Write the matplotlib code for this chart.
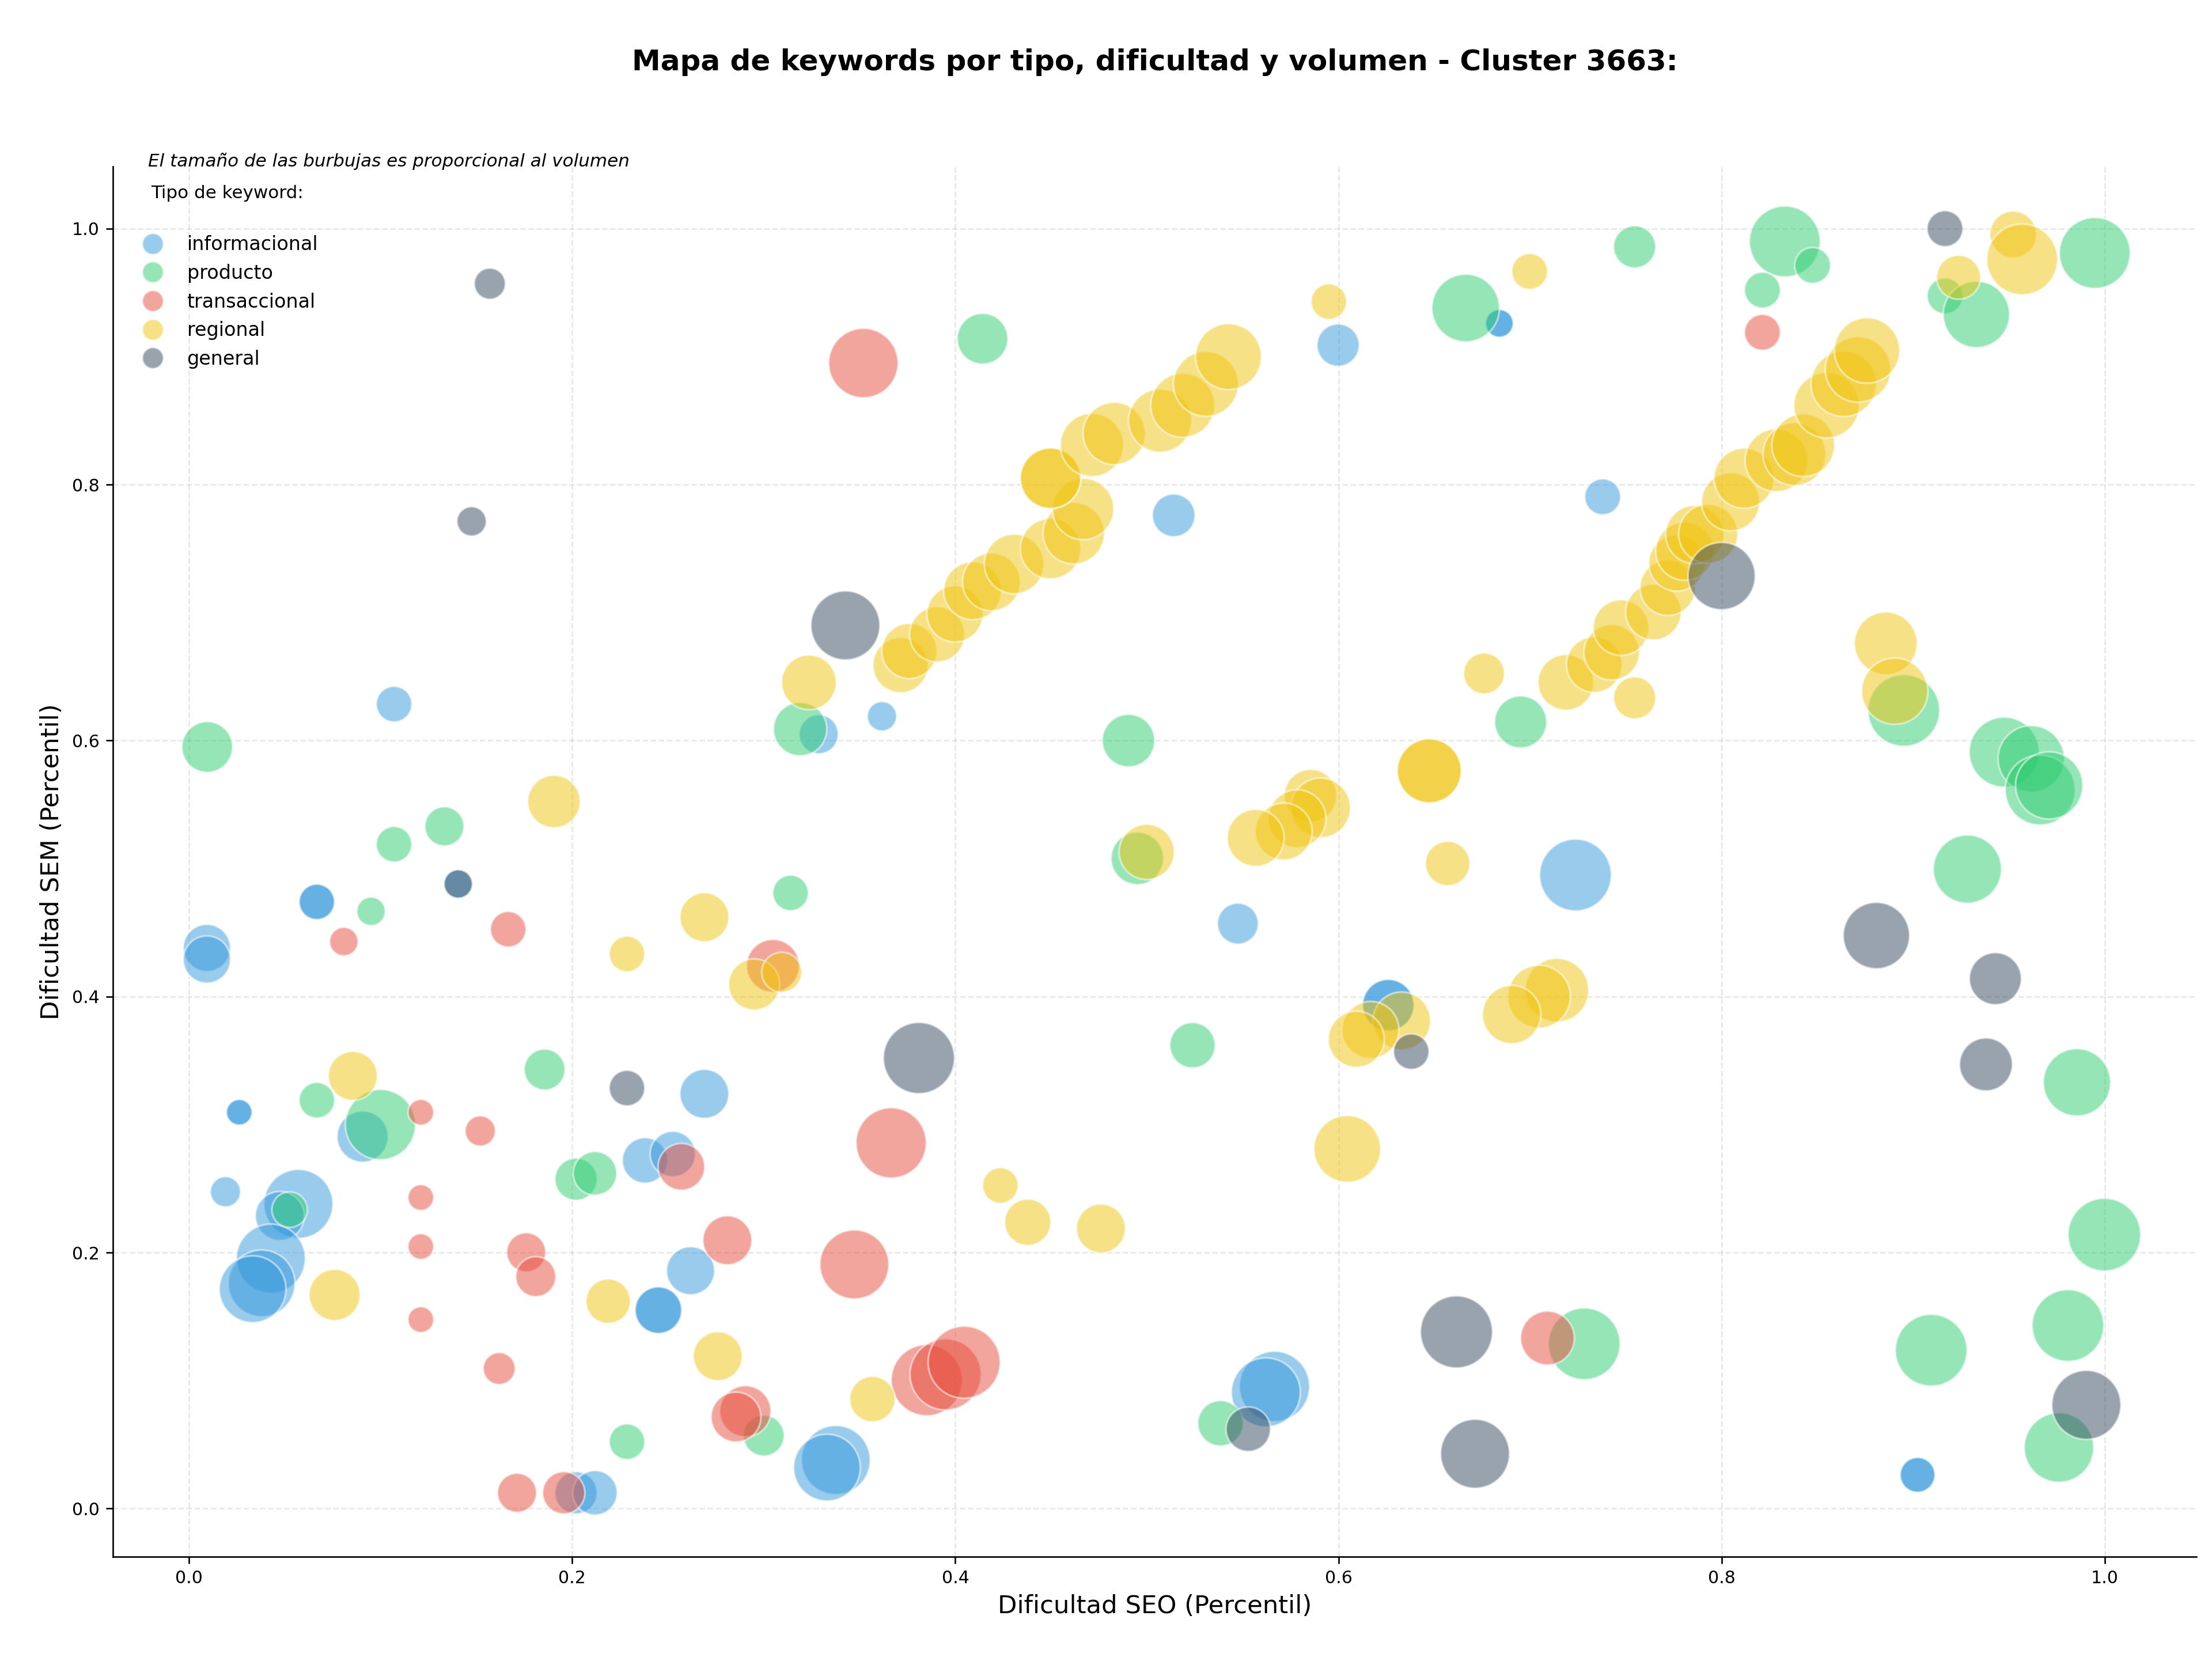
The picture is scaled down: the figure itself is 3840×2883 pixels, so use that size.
import numpy as np
import matplotlib.pyplot as plt
from matplotlib.lines import Line2D

# tipos de keyword y colores
tipos = ['informacional', 'producto', 'transaccional', 'regional', 'general']
colores = ['#3498db', '#2ecc71', '#e74c3c', '#f1c40f', '#34495e']

# informacional: dificultad SEO, dificultad SEM, volumen
info_seo = [0.0093, 0.0093, 0.0667, 0.0667, 0.0262, 0.0262, 0.019, 0.107, 0.0906, 0.0571,
            0.0474, 0.0427, 0.0379, 0.0332, 0.269, 0.238, 0.2525, 0.2618, 0.245, 0.245,
            0.202, 0.2119, 0.3376, 0.333, 0.3287, 0.3617, 0.514, 0.5998, 0.684, 0.684,
            0.5475, 0.626, 0.626, 0.5666, 0.5621, 0.7379, 0.7237, 0.9023, 0.9023, 0.1405]
info_sem = [0.438, 0.429, 0.474, 0.474, 0.3096, 0.3096, 0.2475, 0.6285, 0.2906, 0.238,
            0.2286, 0.1953, 0.176, 0.1714, 0.324, 0.272, 0.277, 0.1858, 0.155, 0.155,
            0.0123, 0.0123, 0.0379, 0.032, 0.605, 0.619, 0.776, 0.909, 0.926, 0.926,
            0.457, 0.3933, 0.3933, 0.0954, 0.0908, 0.7905, 0.495, 0.0263, 0.0263, 0.488]
info_vol = [603, 603, 343, 343, 180, 180, 248, 343, 709, 1289,
            649, 1289, 1207, 1207, 649, 558, 558, 626, 591, 591,
            484, 536, 1289, 1207, 415, 234, 494, 484, 210, 210,
            454, 722, 722, 1339, 1289, 349, 1394, 331, 331, 220]

# producto
prod_seo = [0.0095, 0.1333, 0.107, 0.095, 0.0667, 0.0999, 0.0525, 0.1856, 0.202, 0.2119,
            0.314, 0.2286, 0.300, 0.319, 0.4142, 0.4904, 0.495, 0.5238, 0.5384, 0.6664,
            0.6951, 0.7546, 0.833, 0.8475, 0.8213, 0.9166, 0.933, 0.9948, 0.8951, 0.9475,
            0.9616, 0.9663, 0.971, 0.9283, 0.9855, 0.9998, 0.9808, 0.9094, 0.9761, 0.7283]
prod_sem = [0.595, 0.533, 0.519, 0.4666, 0.319, 0.300, 0.2335, 0.343, 0.2573, 0.2619,
            0.481, 0.0522, 0.057, 0.609, 0.914, 0.600, 0.508, 0.362, 0.0666, 0.938,
            0.6146, 0.9858, 0.990, 0.9713, 0.952, 0.9475, 0.933, 0.981, 0.6236, 0.591,
            0.5858, 0.5614, 0.565, 0.4996, 0.333, 0.214, 0.143, 0.1237, 0.0477, 0.1287]
prod_vol = [697, 415, 343, 220, 343, 1339, 343, 454, 484, 515,
            343, 343, 454, 772, 697, 747, 747, 558, 558, 1239,
            733, 481, 1360, 349, 349, 349, 1193, 1360, 1394, 1326,
            1193, 1326, 1226, 1259, 1226, 1430, 1394, 1394, 1309, 1394]

# transaccional
trans_seo = [0.0808, 0.1666, 0.3048, 0.121, 0.152, 0.121, 0.121, 0.121, 0.257, 0.176,
             0.181, 0.281, 0.1619, 0.2904, 0.2855, 0.1712, 0.1956, 0.352, 0.3665, 0.3473,
             0.3851, 0.3949, 0.4046, 0.8213, 0.7091]
trans_sem = [0.443, 0.4526, 0.424, 0.3096, 0.295, 0.243, 0.2047, 0.1476, 0.267, 0.2002,
             0.1812, 0.2096, 0.1094, 0.076, 0.0715, 0.0123, 0.0123, 0.895, 0.2857, 0.1907,
             0.1003, 0.1048, 0.1143, 0.919, 0.1332]
trans_vol = [220, 343, 758, 180, 248, 180, 180, 180, 591, 415,
             434, 649, 278, 709, 673, 415, 484, 1305, 1339, 1289,
             1373, 1373, 1408, 349, 784]

# regional
reg_seo = [0.1905, 0.0855, 0.076, 0.2286, 0.269, 0.295, 0.3094, 0.2188, 0.276, 0.3236,
           0.3567, 0.4235, 0.4378, 0.476, 0.6046,
           0.3714, 0.376, 0.3905, 0.3998, 0.409, 0.4188, 0.4307, 0.4497, 0.4618, 0.4667,
           0.4497, 0.4497, 0.4713, 0.4829, 0.5069, 0.5187, 0.5308, 0.5426,
           0.595, 0.4999, 0.5854, 0.5907, 0.5784, 0.5714, 0.5568, 0.6474, 0.6474,
           0.657, 0.676, 0.633, 0.6167, 0.6093, 0.714, 0.7047, 0.6904, 0.6998,
           0.7187, 0.7335, 0.7426, 0.7475, 0.7644, 0.7719, 0.7766, 0.7808, 0.786, 0.793,
           0.8047, 0.8117, 0.8286, 0.838, 0.8426, 0.8548, 0.8637, 0.8712, 0.8759,
           0.7546, 0.8857, 0.8904, 0.9237, 0.9522, 0.9569]
reg_sem = [0.5524, 0.338, 0.1669, 0.4333, 0.462, 0.4095, 0.419, 0.162, 0.119, 0.6455,
           0.0855, 0.2524, 0.2237, 0.2188, 0.281,
           0.659, 0.670, 0.683, 0.699, 0.717, 0.724, 0.738, 0.750, 0.762, 0.781,
           0.805, 0.805, 0.831, 0.840, 0.850, 0.862, 0.8787, 0.900,
           0.943, 0.513, 0.557, 0.5475, 0.539, 0.529, 0.524, 0.5764, 0.5764,
           0.504, 0.6525, 0.381, 0.374, 0.3667, 0.405, 0.400, 0.386, 0.9666,
           0.6455, 0.6594, 0.669, 0.6883, 0.7004, 0.7195, 0.7387, 0.748, 0.761, 0.7616,
           0.7866, 0.805, 0.819, 0.8238, 0.8308, 0.862, 0.8787, 0.890, 0.9048,
           0.6334, 0.676, 0.6386, 0.962, 0.9955, 0.976]
reg_vol = [747, 649, 709, 343, 649, 709, 434, 536, 649, 811,
           558, 343, 580, 649, 1207,
           825, 825, 825, 852, 906, 906, 963, 992, 1021, 1021,
           992, 992, 1082, 1051, 1082, 1112, 1143, 1175,
           343, 825, 747, 963, 906, 879, 879, 1112, 1112,
           536, 454, 906, 879, 852, 1098, 1068, 921, 349,
           838, 838, 838, 838, 838, 838, 852, 921, 921, 949,
           921, 978, 1068, 1068, 1068, 1161, 1161, 1161, 1161,
           481, 1068, 1193, 523, 589, 1360]

# general
gen_seo = [0.157, 0.1475, 0.1405, 0.2286, 0.3426, 0.381, 0.638, 0.5529, 0.6616, 0.6713,
           0.8, 0.9166, 0.8808, 0.9429, 0.938, 0.9904]
gen_sem = [0.957, 0.7713, 0.488, 0.3285, 0.690, 0.352, 0.357, 0.062, 0.138, 0.0428,
           0.7286, 1.0, 0.4477, 0.414, 0.347, 0.081]
gen_vol = [263, 234, 220, 343, 1289, 1373, 343, 536, 1408, 1289,
           1226, 349, 1193, 733, 758, 1292]

datos = [(info_seo, info_sem, info_vol), (prod_seo, prod_sem, prod_vol),
         (trans_seo, trans_sem, trans_vol), (reg_seo, reg_sem, reg_vol),
         (gen_seo, gen_sem, gen_vol)]

fig = plt.figure(figsize=(16, 12.0125), dpi=240)
ax = fig.add_axes([0.051, 0.0629, 0.942, 0.8368])

for (x, y, v), tipo, col in zip(datos, tipos, colores):
    ax.scatter(x, y, s=np.array(v), c=col, alpha=0.5, edgecolors='white',
               linewidths=1, label=tipo)

ax.set_xlim(-0.0398, 1.0479)
ax.set_ylim(-0.0375, 1.0485)
ax.set_xticks(np.arange(0, 1.01, 0.2))
ax.set_yticks(np.arange(0, 1.01, 0.2))
ax.tick_params(labelsize=9)
ax.grid(True, linestyle='--', alpha=0.3)
ax.set_axisbelow(True)
ax.spines['top'].set_visible(False)
ax.spines['right'].set_visible(False)

ax.set_xlabel('Dificultad SEO (Percentil)', fontsize=13)
ax.set_ylabel('Dificultad SEM (Percentil)', fontsize=13)
ax.set_title('Mapa de keywords por tipo, dificultad y volumen - Cluster 3663:',
             fontsize=15, fontweight='bold', pad=50)

ax.text(0.0169, 1.004, 'El tamaño de las burbujas es proporcional al volumen',
        transform=ax.transAxes, fontsize=9.3, fontstyle='italic', va='center', ha='left')
ax.text(0.0183, 0.9807, 'Tipo de keyword:', transform=ax.transAxes, fontsize=9.3,
        va='center', ha='left')

handles = [Line2D([0], [0], marker='o', linestyle='', markersize=11,
                  markerfacecolor=c, markeredgecolor='white', alpha=0.5)
           for c in colores]
ax.legend(handles, tipos, loc='upper left', bbox_to_anchor=(0.0015, 0.963),
          frameon=False, fontsize=10, labelspacing=0.5)

fig.savefig('out.png', dpi=240)
